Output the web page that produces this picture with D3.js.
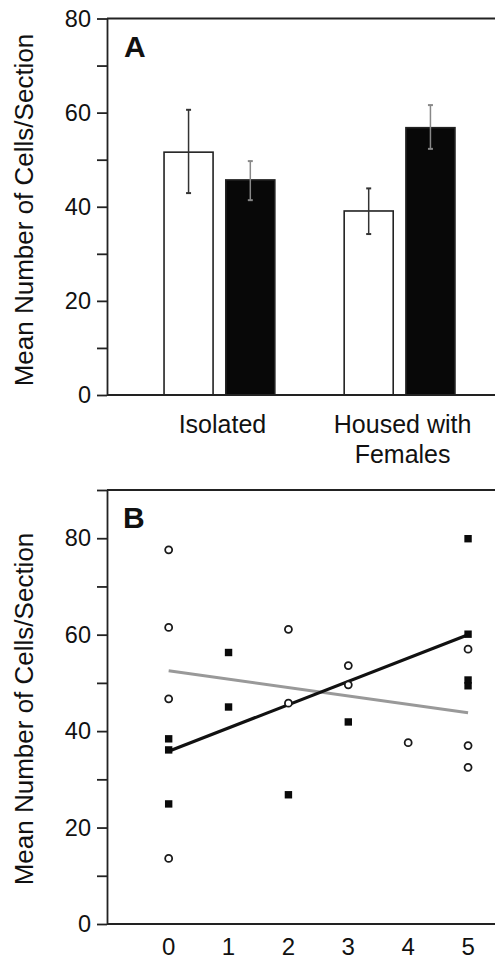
<meta charset="utf-8">
<style>
  body { margin: 0; background: #fff; }
  svg { display: block; }
  text { font-family: "Liberation Sans", Arial, sans-serif; fill: #111; }
  .tick line, .domain { stroke: #222; stroke-width: 1.8px; }
  .tick text { font-size: 23.5px; }
</style>
<div id="chart"></div>
<script src="https://d3js.org/d3.v7.min.js"></script>
<script>
// panel A: bar means and error bar ends
var groups = ["Isolated", "Housed with Females"];
var openMeans = [51.6, 39.1];
var openHigh = [60.6, 43.9];
var openLow = [42.9, 34.2];
var fillMeans = [45.7, 56.8];
var fillHigh = [49.7, 61.6];
var fillLow = [41.4, 52.3];

// panel B: individual points
var openX = [0, 0, 0, 0, 2, 2, 3, 3, 4, 5, 5, 5];
var openY = [77.6, 61.5, 46.7, 13.6, 61.1, 45.8, 53.6, 49.6, 37.6, 57.0, 37.0, 32.5];
var fillX = [0, 0, 0, 1, 1, 2, 3, 5, 5, 5, 5];
var fillY = [38.4, 36.1, 24.9, 56.3, 45.0, 26.8, 41.9, 79.9, 60.1, 50.6, 49.4];

// regression lines, values at x = 0 and x = 5
var fitX = [0, 5];
var fillFit = [35.8, 60.0];
var openFit = [52.5, 43.8];

var yTitle = "Mean Number of Cells/Section";

var width = 495, height = 960;
var svg = d3.select("#chart").append("svg")
    .attr("width", width)
    .attr("height", height);

var left = 107;

function yAxis(g, y, ticks) {
    g.attr("transform", "translate(" + left + ",0)")
        .call(d3.axisLeft(y)
            .tickValues(ticks)
            .tickSize(10)
            .tickPadding(6)
            .tickSizeOuter(0)
            .tickFormat(function (d) { return d % 20 === 0 ? d : ""; }));
}

function frame(y, top) {
    // top border and bottom axis run off to the right edge
    svg.append("line")
        .attr("x1", left).attr("x2", width)
        .attr("y1", top).attr("y2", top)
        .attr("stroke", "#222").attr("stroke-width", 1.8);
    svg.append("line")
        .attr("x1", left).attr("x2", width)
        .attr("y1", y(0)).attr("y2", y(0))
        .attr("stroke", "#222").attr("stroke-width", 2);
}

function title(cy) {
    svg.append("text")
        .attr("transform", "translate(33," + cy + ") rotate(-90)")
        .attr("text-anchor", "middle")
        .style("font-size", "26px")
        .text(yTitle);
}

// ---------- panel A ----------
var yA = d3.scaleLinear().domain([0, 80]).range([395, 18.5]);
var xA = d3.scaleBand().domain(groups).range([110, 509])
    .paddingInner(0.385).paddingOuter(0.3);
var sub = d3.scaleBand().domain(["open", "fill"]).range([0, xA.bandwidth()])
    .paddingInner(0.206);

var bars = [];
groups.forEach(function (g, i) {
    bars.push({g: g, k: "open", v: openMeans[i], hi: openHigh[i], lo: openLow[i]});
    bars.push({g: g, k: "fill", v: fillMeans[i], hi: fillHigh[i], lo: fillLow[i]});
});

svg.append("g").selectAll("rect")
    .data(bars)
    .enter().append("rect")
    .attr("x", function (d) { return xA(d.g) + sub(d.k); })
    .attr("y", function (d) { return yA(d.v); })
    .attr("width", sub.bandwidth())
    .attr("height", function (d) { return yA(0) - yA(d.v); })
    .attr("fill", function (d) { return d.k === "fill" ? "#080808" : "#fff"; })
    .attr("stroke", "#222")
    .attr("stroke-width", 1.6);

var err = svg.append("g").selectAll("g")
    .data(bars)
    .enter().append("g")
    .attr("stroke", function (d) { return d.k === "fill" ? "#888" : "#333"; })
    .attr("stroke-width", 1.5);
err.append("line")
    .attr("x1", function (d) { return xA(d.g) + sub(d.k) + sub.bandwidth() / 2; })
    .attr("x2", function (d) { return xA(d.g) + sub(d.k) + sub.bandwidth() / 2; })
    .attr("y1", function (d) { return yA(d.hi); })
    .attr("y2", function (d) { return yA(d.lo); });
["hi", "lo"].forEach(function (end) {
    err.append("line")
        .attr("x1", function (d) { return xA(d.g) + sub(d.k) + sub.bandwidth() / 2 - 2.5; })
        .attr("x2", function (d) { return xA(d.g) + sub(d.k) + sub.bandwidth() / 2 + 2.5; })
        .attr("y1", function (d) { return yA(d[end]); })
        .attr("y2", function (d) { return yA(d[end]); })
        .attr("stroke-width", 2);
});

frame(yA, yA(80));
svg.append("g").call(yAxis, yA, d3.range(0, 81, 10));

var cat = svg.append("g").selectAll("text")
    .data(groups)
    .enter().append("text")
    .attr("text-anchor", "middle")
    .style("font-size", "25px")
    .attr("x", function (d) { return xA(d) + xA.bandwidth() / 2 + 3; })
    .attr("y", 433);
cat.each(function (d) {
    var words = d === "Isolated" ? [d] : ["Housed with", "Females"];
    var t = d3.select(this);
    words.forEach(function (w, i) {
        t.append("tspan")
            .attr("x", t.attr("x"))
            .attr("dy", i === 0 ? 0 : 30)
            .text(w);
    });
});

svg.append("text")
    .attr("x", 124).attr("y", 57)
    .style("font-size", "30px").style("font-weight", "bold")
    .text("A");

// ---------- panel B ----------
var yB = d3.scaleLinear().domain([0, 90]).range([924, 490]);
var xB = d3.scaleLinear().domain([-1.03, 5.45]).range([left, width]);

svg.append("line")
    .attr("x1", xB(fitX[0])).attr("x2", xB(fitX[1]))
    .attr("y1", yB(openFit[0])).attr("y2", yB(openFit[1]))
    .attr("stroke", "#999").attr("stroke-width", 3);
svg.append("line")
    .attr("x1", xB(fitX[0])).attr("x2", xB(fitX[1]))
    .attr("y1", yB(fillFit[0])).attr("y2", yB(fillFit[1]))
    .attr("stroke", "#111").attr("stroke-width", 3.2);

svg.append("g").selectAll("rect")
    .data(fillX.map(function (x, i) { return [x, fillY[i]]; }))
    .enter().append("rect")
    .attr("x", function (d) { return xB(d[0]) - 3.7; })
    .attr("y", function (d) { return yB(d[1]) - 3.7; })
    .attr("width", 7.4).attr("height", 7.4)
    .attr("fill", "#0a0a0a");

svg.append("g").selectAll("circle")
    .data(openX.map(function (x, i) { return [x, openY[i]]; }))
    .enter().append("circle")
    .attr("cx", function (d) { return xB(d[0]); })
    .attr("cy", function (d) { return yB(d[1]); })
    .attr("r", 3.5)
    .attr("fill", "#fff")
    .attr("stroke", "#1a1a1a")
    .attr("stroke-width", 1.8);

frame(yB, yB(90));
svg.append("g").call(yAxis, yB, d3.range(0, 91, 10));

svg.append("g").selectAll("text")
    .data(d3.range(0, 6))
    .enter().append("text")
    .attr("x", function (d) { return xB(d); })
    .attr("y", 955)
    .attr("text-anchor", "middle")
    .style("font-size", "24px")
    .text(function (d) { return d; });

svg.append("text")
    .attr("x", 123).attr("y", 528)
    .style("font-size", "30px").style("font-weight", "bold")
    .text("B");

title(210);
title(709);
</script>
